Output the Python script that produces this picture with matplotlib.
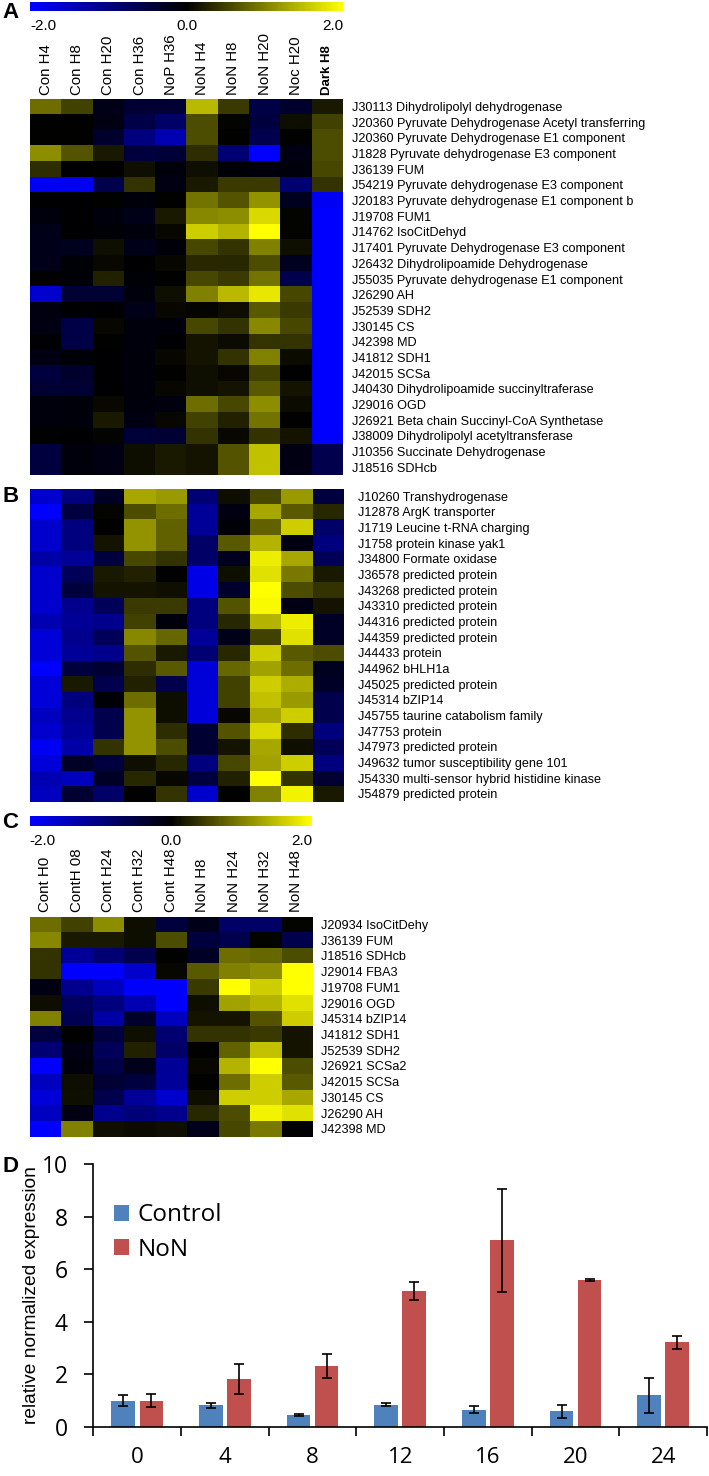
import matplotlib
matplotlib.use('Agg')
import matplotlib.pyplot as plt
from matplotlib.colors import LinearSegmentedColormap, Normalize
from matplotlib.cm import ScalarMappable
import numpy as np

W, H = 709, 1476
plt.rcParams['font.family'] = ['Liberation Sans', 'DejaVu Sans']

# panel A
cols_a = ['Con H4', 'Con H8', 'Con H20', 'Con H36', 'NoP H36', 'NoN H4', 'NoN H8', 'NoN H20', 'Noc H20', 'Dark H8']
rows_a = ['J30113 Dihydrolipolyl dehydrogenase',
          'J20360 Pyruvate Dehydrogenase Acetyl transferring',
          'J20360 Pyruvate Dehydrogenase E1 component',
          'J1828 Pyruvate dehydrogenase E3 component',
          'J36139 FUM',
          'J54219 Pyruvate dehydrogenase E3 component',
          'J20183 Pyruvate dehydrogenase E1 component b',
          'J19708 FUM1',
          'J14762 IsoCitDehyd',
          'J17401 Pyruvate Dehydrogenase E3 component',
          'J26432 Dihydrolipoamide Dehydrogenase',
          'J55035 Pyruvate dehydrogenase E1 component',
          'J26290 AH',
          'J52539 SDH2',
          'J30145 CS',
          'J42398 MD',
          'J41812 SDH1',
          'J42015 SCSa',
          'J40430 Dihydrolipoamide succinyltraferase',
          'J29016 OGD',
          'J26921 Beta chain Succinyl-CoA Synthetase',
          'J38009 Dihydrolipolyl acetyltransferase',
          'J10356 Succinate Dehydrogenase',
          'J18516 SDHcb']
vals_a = [[0.85, 0.5, -0.2, -0.4, -0.4, 1.45, 0.45, -0.55, -0.35, 0.2],
          [0, 0, -0.15, -0.55, -0.8, 0.6, 0.03, -0.5, 0.1, 0.5],
          [0, 0, -0.35, -1.0, -1.4, 0.6, 0, -0.6, 0, 0.6],
          [1.1, 0.65, 0.2, -0.5, -0.45, 0.35, -0.9, -2, -0.15, 0.6],
          [0.35, -0.03, 0, 0.12, -0.1, 0.12, -0.05, -0.1, -0.1, 0.55],
          [-1.9, -1.9, -0.6, 0.4, -0.15, 0.2, 0.45, 0.45, -0.9, 0.4],
          [-0.02, -0.03, 0, -0.08, 0, 0.9, 0.65, 1.15, -0.25, -1.9],
          [-0.1, -0.03, -0.1, -0.2, 0.2, 1.05, 1.1, 1.7, 0.03, -2],
          [-0.2, -0.02, -0.05, -0.1, 0.05, 1.6, 1.4, 2, 0.02, -2],
          [-0.2, -0.25, 0.12, -0.2, -0.1, 0.55, 0.4, 1.0, 0.12, -2],
          [-0.2, -0.05, 0.07, -0.02, 0.05, 0.3, 0.3, 0.6, -0.25, -2],
          [0, -0.05, 0.25, -0.05, 0, 0.55, 0.45, 0.9, -0.6, -2],
          [-1.6, -0.4, -0.4, -0.1, 0.12, 1.0, 1.45, 1.8, 0.55, -2],
          [-0.12, -0.02, -0.02, -0.2, 0.05, 0.04, 0.1, 0.7, 0.45, -2],
          [-0.15, -0.55, 0.05, -0.1, -0.1, 0.55, 0.4, 1.05, 0.55, -2],
          [-0.03, -0.55, 0, -0.1, -0.02, 0.15, 0.08, 0.4, 0.4, -2],
          [-0.15, -0.05, -0.03, -0.08, 0.05, 0.15, 0.4, 1.0, 0.08, -2],
          [-0.5, -0.35, -0.02, -0.08, 0, 0.12, 0.05, 0.5, 0, -2],
          [-0.4, -0.4, -0.02, -0.08, 0.05, 0.12, 0.15, 0.7, 0.15, -2],
          [-0.1, -0.08, 0.07, -0.1, -0.12, 0.85, 0.55, 1.1, 0.08, -2],
          [-0.1, -0.08, 0.2, -0.15, 0.05, 0.5, 0.25, 0.9, 0, -2],
          [0, -0.03, 0.03, -0.45, -0.4, 0.4, 0.07, 0.4, 0.15, -2],
          [-0.5, -0.1, -0.15, 0.1, 0.2, 0.15, 0.65, 1.5, -0.15, -0.6],
          [-0.5, -0.1, -0.15, 0.1, 0.2, 0.15, 0.65, 1.5, -0.15, -0.6]]

# panel B
rows_b = ['J10260 Transhydrogenase', 'J12878 ArgK transporter', 'J1719 Leucine t-RNA charging',
          'J1758 protein kinase yak1', 'J34800 Formate oxidase', 'J36578 predicted protein',
          'J43268 predicted protein', 'J43310 predicted protein', 'J44316 predicted protein',
          'J44359 predicted protein', 'J44433 protein', 'J44962 bHLH1a', 'J45025 predicted protein',
          'J45314 bZIP14', 'J45755 taurine catabolism family', 'J47753 protein',
          'J47973 predicted protein', 'J49632 tumor susceptibility gene 101',
          'J54330 multi-sensor hybrid histidine kinase', 'J54879 predicted protein']
vals_b = [[-1.6, -1.0, -0.3, 1.3, 1.2, -0.9, 0.1, 0.55, 1.2, -0.5],
          [-2, -0.5, 0.03, 0.6, 0.85, -1.2, -0.15, 1.3, 0.7, 0.3],
          [-1.6, -1.0, 0, 1.15, 0.75, -1.2, -0.05, 0.75, 1.6, -0.8],
          [-1.6, -1.0, 0.15, 1.15, 0.75, -0.8, 0.7, 1.4, -0.15, -1.0],
          [-1.3, -1.2, -0.5, 0.55, 0.4, -0.8, -0.25, 1.85, 1.3, -0.7],
          [-1.6, -0.7, 0.2, 0.25, 0, -1.8, 0.12, 1.75, 0.95, 0.2],
          [-1.6, -0.5, 0.15, 0.15, 0.12, -1.8, -0.35, 2, 0.6, 0.4],
          [-1.6, -1.1, -0.7, 0.45, 0.45, -1.0, 0.65, 1.95, -0.15, 0.15],
          [-1.4, -1.2, -1.1, 0.5, -0.1, -1.0, 0.3, 1.4, 1.85, -0.3],
          [-1.7, -1.1, -0.7, 1.05, 0.8, -1.2, -0.2, 0.5, 1.75, -0.3],
          [-1.7, -1.2, -1.1, 0.65, 0.2, -0.9, 0.3, 1.6, 0.7, 0.6],
          [-2, -0.5, -0.4, 0.35, 0.7, -1.7, 0.8, 1.25, 0.85, -0.25],
          [-1.7, 0.2, -0.6, 0.25, -0.6, -1.7, 0.5, 1.6, 1.35, -0.3],
          [-1.7, -1.0, -0.05, 0.85, 0.1, -1.7, 0.5, 1.5, 1.2, -0.6],
          [-1.5, -1.1, -0.6, 1.15, 0.1, -1.7, 0.05, 1.3, 1.6, -0.6],
          [-1.6, -1.2, -0.6, 1.15, 0.35, -0.4, 0.65, 1.7, 0.35, -1.0],
          [-1.9, -1.3, 0.4, 1.15, 0.6, -0.4, 0.15, 1.3, 0.12, -0.7],
          [-1.7, -0.3, -0.5, 0.12, 0.3, -1.0, 0.55, 1.25, 1.6, -1.0],
          [-1.4, -1.5, -0.3, 0.3, 0.05, -0.5, 0.25, 2, 0.4, -0.4],
          [-1.5, -0.4, -0.8, 0, 0.4, -1.6, 0, 1.0, 1.9, 0.2]]

# panel C
cols_c = ['Cont H0', 'ContH 08', 'Cont H24', 'Cont H32', 'Cont H48', 'NoN H8', 'NoN H24', 'NoN H32', 'NoN H48']
rows_c = ['J20934 IsoCitDehy', 'J36139 FUM', 'J18516 SDHcb', 'J29014 FBA3', 'J19708 FUM1', 'J29016 OGD',
          'J45314 bZIP14', 'J41812 SDH1', 'J52539 SDH2', 'J26921 SCSa2', 'J42015 SCSa', 'J30145 CS',
          'J26290 AH', 'J42398 MD']
vals_c = [[0.85, 0.5, 1.1, 0.1, -0.5, -0.2, -0.8, -0.8, 0.02],
          [1.05, 0.2, 0.2, 0.1, 0.6, -0.5, -0.6, 0.02, -0.6],
          [0.4, -1.2, -0.9, -0.6, 0, -0.3, 0.85, 0.8, 0.6],
          [0.4, -2, -2, -1.6, 0.06, 0.7, 1.0, 1.1, 2],
          [-0.15, -1.1, -1.5, -2, -2, 0.45, 2, 1.6, 2],
          [0.1, -0.75, -1.0, -1.4, -2, 0.1, 1.25, 1.4, 1.75],
          [1.0, -0.65, -1.3, -0.35, -1.5, 0.15, 0.15, 0.65, 1.6],
          [-0.5, 0, -0.5, 0.12, -0.9, 0.4, 0.4, 0.45, 0.15],
          [-0.9, -0.15, -0.7, 0.25, -0.8, 0, 0.75, 1.5, 0.15],
          [-2, -0.1, -0.55, -0.2, -1.2, 0.05, 1.4, 2, 0.6],
          [-1.5, 0.1, -0.4, -0.5, -1.2, 0, 0.85, 1.6, 0.7],
          [-1.7, 0.12, -0.6, -1.2, -1.6, 0.1, 1.6, 1.6, 1.3],
          [-1.5, -0.15, -1.1, -0.95, -1.1, 0.3, 0.6, 1.9, 1.75],
          [-2, 1.0, 0.12, 0.08, 0.12, -0.2, 0.55, 0.95, -0.02]]

# panel D
hours = ['0', '4', '8', '12', '16', '20', '24']
control = [1.0, 0.82, 0.45, 0.85, 0.65, 0.6, 1.2]
control_err = [0.22, 0.1, 0.03, 0.05, 0.13, 0.25, 0.67]
non = [1.0, 1.82, 2.33, 5.18, 7.1, 5.58, 3.22]
non_err = [0.25, 0.58, 0.45, 0.35, 1.95, 0.03, 0.24]

cmap = LinearSegmentedColormap.from_list('byk', ['#0000ff', '#000000', '#ffff00'])
norm = Normalize(-2, 2)
sans2 = ['Open Sans', 'DejaVu Sans']


def px_axes(x0, y0, x1, y1):
    return fig.add_axes([x0/W, 1-y1/H, (x1-x0)/W, (y1-y0)/H])


def heat(box, vals, rows, cols=None, pad=6.5, xpad=2.5):
    ax = px_axes(*box)
    ax.imshow(np.array(vals), cmap=cmap, norm=norm, aspect='auto', interpolation='nearest')
    ax.yaxis.tick_right()
    ax.set_yticks(range(len(rows)))
    ax.set_yticklabels(rows, fontsize=9.1)
    ax.tick_params(axis='y', length=0, pad=pad)
    if cols is None:
        ax.set_xticks([])
    else:
        ax.xaxis.tick_top()
        ax.set_xticks(range(len(cols)))
        ax.set_xticklabels(cols, rotation=90, fontsize=10.8, ha='center', va='bottom')
        ax.tick_params(axis='x', length=0, pad=xpad)
    for s in ax.spines.values():
        s.set_visible(False)
    return ax


def cbar(box):
    cax = px_axes(*box)
    cb = fig.colorbar(ScalarMappable(norm=norm, cmap=cmap), cax=cax, orientation='horizontal')
    cb.outline.set_visible(False)
    cb.set_ticks([-2, 0, 2])
    cb.set_ticklabels(['-2.0', '0.0', '2.0'], fontsize=11)
    cax.tick_params(axis='x', length=0, pad=6)
    lab = cax.get_xticklabels()
    lab[0].set_ha('left')
    lab[2].set_ha('right')


fig = plt.figure(figsize=(W/100, H/100), dpi=100)

cbar((30, 1.5, 343, 11))
ax_a = heat((30, 98.7, 343, 475), vals_a, rows_a, cols_a)
ax_a.get_xticklabels()[-1].set_fontweight('bold')
ax_a.get_xticklabels()[-1].set_fontsize(9.5)
heat((29.5, 488.5, 343, 801.7), vals_b, rows_b, pad=11)
cbar((29.5, 816, 312, 825.7))
heat((29.5, 916.7, 312, 1136.7), vals_c, rows_c, cols_c, xpad=3.5)

ax = px_axes(93.5, 1164, 707, 1427)
x = np.arange(len(hours))
ax.bar(x-0.16, control, 0.27, color='#4f81bd', label='Control',
       yerr=control_err, ecolor='black', error_kw=dict(elinewidth=1.2, capsize=3.5, capthick=1.2))
ax.bar(x+0.16, non, 0.27, color='#c0504d', label='NoN',
       yerr=non_err, ecolor='black', error_kw=dict(elinewidth=1.2, capsize=3.5, capthick=1.2))
ax.set_xlim(-0.5, 6.5)
ax.set_ylim(0, 10)
ax.set_yticks([0, 2, 4, 6, 8, 10])
ax.set_xticks(np.arange(-0.5, 7))
ax.set_xticklabels([])
ax.set_xticks(x, minor=True)
ax.set_xticklabels(hours, minor=True, fontsize=16, family=sans2)
ax.tick_params(axis='x', which='minor', length=0, pad=14.5)
ax.tick_params(axis='x', which='major', length=6.5, width=1.2, direction='out')
ax.tick_params(axis='y', length=6.5, width=1.2, labelsize=16.5, pad=12)
for t in ax.get_yticklabels():
    t.set_family(sans2)
ax.spines['top'].set_visible(False)
ax.spines['right'].set_visible(False)
ax.spines['left'].set_linewidth(1.2)
ax.spines['bottom'].set_linewidth(1.2)
ax.set_ylabel('relative normalized expression', fontsize=13.8)
ax.yaxis.set_label_coords((40-93.5)/613.5, 0.5)
ax.legend(loc='upper left', bbox_to_anchor=(0.033, 0.85), frameon=False,
          handlelength=0.64, handleheight=0.68, handletextpad=0.34, labelspacing=0.42,
          borderaxespad=0, borderpad=0, prop=dict(family=sans2, size=17.5))

for label, y in [('A', 13), ('B', 496), ('C', 823), ('D', 1167)]:
    fig.text(2/W, 1-y/H, label, fontsize=16, fontweight='bold', va='center', ha='left')

plt.savefig('out.png', dpi=100)
